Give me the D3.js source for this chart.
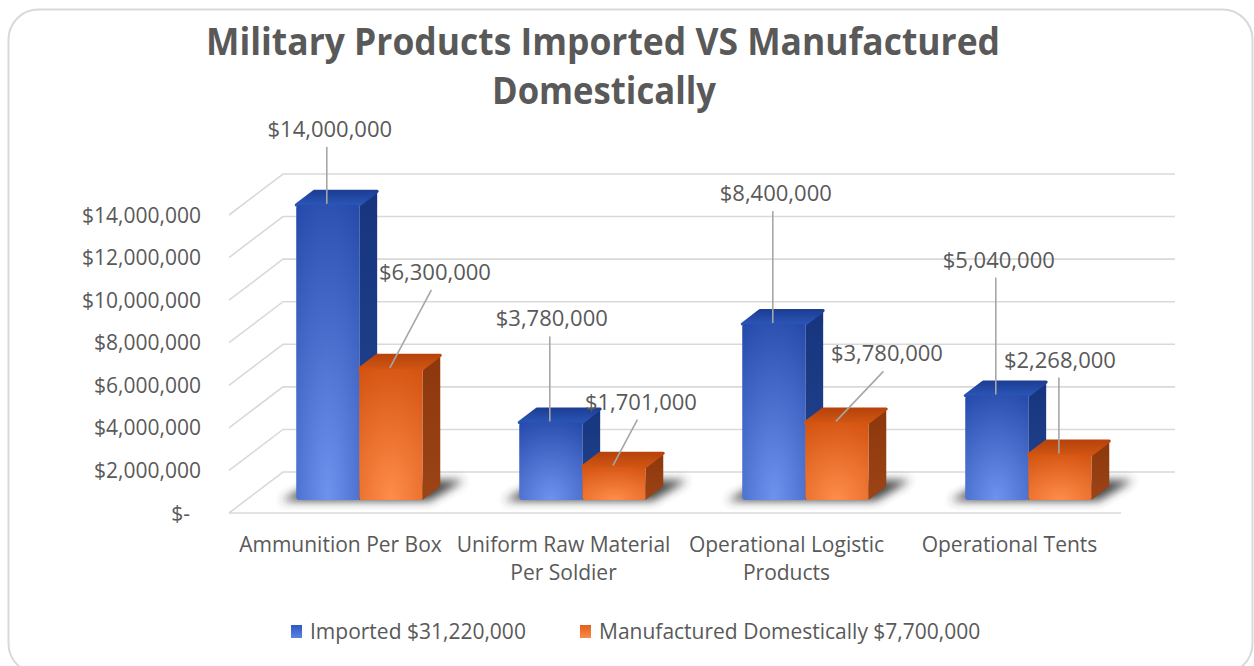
<!DOCTYPE html>
<html>
<head>
<meta charset="utf-8">
<script src="https://cdn.jsdelivr.net/npm/d3@7"></script>
<style>
  body { margin: 0; background: #fff; }
  text { font-family: "Open Sans", sans-serif; fill: #595959; }
</style>
</head>
<body>
<div id="chart"></div>
<script>
// Chart data
const categories = ["Ammunition Per Box", "Uniform Raw Material Per Soldier", "Operational Logistic Products", "Operational Tents"];
const categoryLines = [["Ammunition Per Box"], ["Uniform Raw Material", "Per Soldier"], ["Operational Logistic", "Products"], ["Operational Tents"]];
const imported = [14000000, 3780000, 8400000, 5040000];
const manufactured = [6300000, 1701000, 3780000, 2268000];
const seriesNames = ["Imported $31,220,000", "Manufactured Domestically $7,700,000"];
const yTicks = [0, 2000000, 4000000, 6000000, 8000000, 10000000, 12000000, 14000000];

// hand placed data labels (offset from the bar's top front centre)
const labelOffsets = [
    [[2, -73], [44, -94]],
    [[1, -101], [27, -62]],
    [[2, -128], [50, -66]],
    [[2, -133], [0, -92]]
];

const width = 1254, height = 666;
const DX = 54, DY = -41;       // depth vector of the 3D box
const z1 = 0.32, z2 = 0.65;    // depth of the bars

const svg = d3.select("#chart").append("svg")
    .attr("width", width)
    .attr("height", height);

const defs = svg.append("defs");

function radial(id, inner, outer) {
    let g = defs.append("radialGradient").attr("id", id)
        .attr("cx", 0.5).attr("cy", 1).attr("r", 1.15);
    g.append("stop").attr("offset", "0%").attr("stop-color", inner);
    g.append("stop").attr("offset", "100%").attr("stop-color", outer);
}
function linear(id, c1, c2) {
    let g = defs.append("linearGradient").attr("id", id)
        .attr("x1", 0).attr("y1", 0).attr("x2", 0).attr("y2", 1);
    g.append("stop").attr("offset", "0%").attr("stop-color", c1);
    g.append("stop").attr("offset", "100%").attr("stop-color", c2);
}
radial("blueFront", "#6e93ef", "#2247a8");
linear("blueTop", "#1d3f96", "#2b55b6");
linear("blueSide", "#17357f", "#22448f");
radial("orangeFront", "#ff8d4a", "#d2500e");
linear("orangeTop", "#b8440c", "#cf5512");
linear("orangeSide", "#8c370c", "#9c4416");
linear("blueKey", "#2f58c0", "#5a82e6");
linear("orangeKey", "#e0601c", "#fb8a48");

defs.append("filter").attr("id", "blur")
    .attr("x", "-50%").attr("y", "-50%").attr("width", "200%").attr("height", "200%")
    .append("feGaussianBlur").attr("stdDeviation", 5);

const palette = [
    { front: "url(#blueFront)", top: "url(#blueTop)", side: "url(#blueSide)", key: "url(#blueKey)" },
    { front: "url(#orangeFront)", top: "url(#orangeTop)", side: "url(#orangeSide)", key: "url(#orangeKey)" }
];

// frame
svg.append("rect")
    .attr("x", 8.5).attr("y", 9.5)
    .attr("width", 1244).attr("height", 664)
    .attr("rx", 30)
    .attr("fill", "#fff")
    .attr("stroke", "#d9d9d9")
    .attr("stroke-width", 2);

// scales on the front plane
let x = d3.scaleBand().domain(categories).range([229, 1121]);
let y = d3.scaleLinear().domain([0, 14000000]).range([513, 215]);
const bw = x.bandwidth();
const barW = bw * 0.283;

// gridlines: back wall + left wall
let grid = svg.append("g")
    .attr("stroke", "#d9d9d9")
    .attr("stroke-width", 1.6)
    .attr("fill", "none");

yTicks.forEach(v => {
    grid.append("path")
        .attr("d", `M${229},${y(v)} L${229 + DX},${y(v) + DY} L${1121 + DX},${y(v) + DY}`);
});
grid.append("line")
    .attr("x1", 229).attr("x2", 1121)
    .attr("y1", y(0)).attr("y2", y(0));

// y axis labels
svg.append("g").selectAll("text")
    .data(yTicks)
    .enter().append("text")
    .attr("x", d => d === 0 ? 190 : 201)
    .attr("y", d => y(d))
    .attr("dy", "0.36em")
    .attr("text-anchor", "end")
    .style("font-size", "21px")
    .text(d => d === 0 ? "$-" : d3.format("$,")(d));

// point on the floor/wall at a given depth
const proj = (px, v, z) => [px + DX * z, y(v) + DY * z];

let bars = svg.append("g");
let labels = svg.append("g");

categories.forEach((cat, i) => {
    let values = [imported[i], manufactured[i]];
    let x0 = x(cat) + bw * 0.224;

    // soft shadow on the floor
    let sh = [
        proj(x0 - 14, 0, 0.30), proj(x0 + 2 * barW + 8, 0, 0.30),
        proj(x0 + 2 * barW + 16, 0, 0.80), proj(x0 - 4, 0, 0.80)
    ];
    bars.append("polygon")
        .attr("points", sh.map(p => p.join(",")).join(" "))
        .attr("fill", "#333")
        .attr("opacity", 0.9)
        .attr("filter", "url(#blur)");

    values.forEach((v, s) => {
        let bx = x0 + s * barW;
        let [fx, fBase] = proj(bx, 0, z1);
        let fTop = proj(bx, v, z1)[1] + 3;
        let ddx = DX * (z2 - z1), ddy = DY * (z2 - z1);
        let c = palette[s];

        // side face
        bars.append("polygon")
            .attr("points", [
                [fx + barW, fTop], [fx + barW + ddx, fTop + ddy],
                [fx + barW + ddx, fBase + ddy], [fx + barW, fBase]
            ].map(p => p.join(",")).join(" "))
            .attr("fill", c.side);

        // top face
        bars.append("polygon")
            .attr("points", [
                [fx, fTop], [fx + ddx, fTop + ddy],
                [fx + barW + ddx, fTop + ddy], [fx + barW, fTop]
            ].map(p => p.join(",")).join(" "))
            .attr("fill", c.top)
            .attr("stroke", c.top)
            .attr("stroke-linejoin", "round")
            .attr("stroke-width", 3);

        // front face
        bars.append("rect")
            .attr("x", fx)
            .attr("y", fTop)
            .attr("width", barW)
            .attr("height", fBase - fTop)
            .attr("rx", 3)
            .attr("fill", c.front);

        // data label with leader line
        let xc = fx + barW / 2;
        let [odx, ody] = labelOffsets[i][s];
        let lx = xc + odx, ly = fTop - 3 + ody;
        let sx = Math.abs(odx) < 10 ? xc - 1 : lx - 3.5;

        labels.append("line")
            .attr("x1", sx).attr("y1", ly + 18)
            .attr("x2", xc - 1).attr("y2", fTop - 1)
            .attr("stroke", "#a6a6a6")
            .attr("stroke-width", 1.6);

        labels.append("text")
            .attr("x", lx)
            .attr("y", ly)
            .attr("dy", "0.36em")
            .attr("text-anchor", "middle")
            .style("font-size", "22px")
            .text(d3.format("$,")(v));
    });
});

// category labels
let xl = svg.append("g");
categories.forEach((cat, i) => {
    let t = xl.append("text")
        .attr("x", x(cat) + bw / 2)
        .attr("y", 552)
        .attr("text-anchor", "middle")
        .style("font-size", "21px");
    categoryLines[i].forEach((line, k) => {
        t.append("tspan")
            .attr("x", x(cat) + bw / 2)
            .attr("dy", k === 0 ? 0 : 28)
            .text(line);
    });
});

// title
svg.append("text")
    .attr("x", 603).attr("y", 55)
    .attr("text-anchor", "middle")
    .attr("textLength", 794)
    .attr("lengthAdjust", "spacingAndGlyphs")
    .style("font-size", "38px")
    .style("font-weight", "bold")
    .text("Military Products Imported VS Manufactured");

svg.append("text")
    .attr("x", 604).attr("y", 104)
    .attr("text-anchor", "middle")
    .attr("textLength", 224)
    .attr("lengthAdjust", "spacingAndGlyphs")
    .style("font-size", "38px")
    .style("font-weight", "bold")
    .text("Domestically");

// legend
const legendX = [291, 580];
let legend = svg.append("g");
seriesNames.forEach((name, s) => {
    legend.append("rect")
        .attr("x", legendX[s]).attr("y", 625)
        .attr("width", 11).attr("height", 13)
        .attr("fill", palette[s].key);
    legend.append("text")
        .attr("x", legendX[s] + 19)
        .attr("y", 631)
        .attr("dy", "0.36em")
        .style("font-size", "21px")
        .text(name);
});
</script>
</body>
</html>
